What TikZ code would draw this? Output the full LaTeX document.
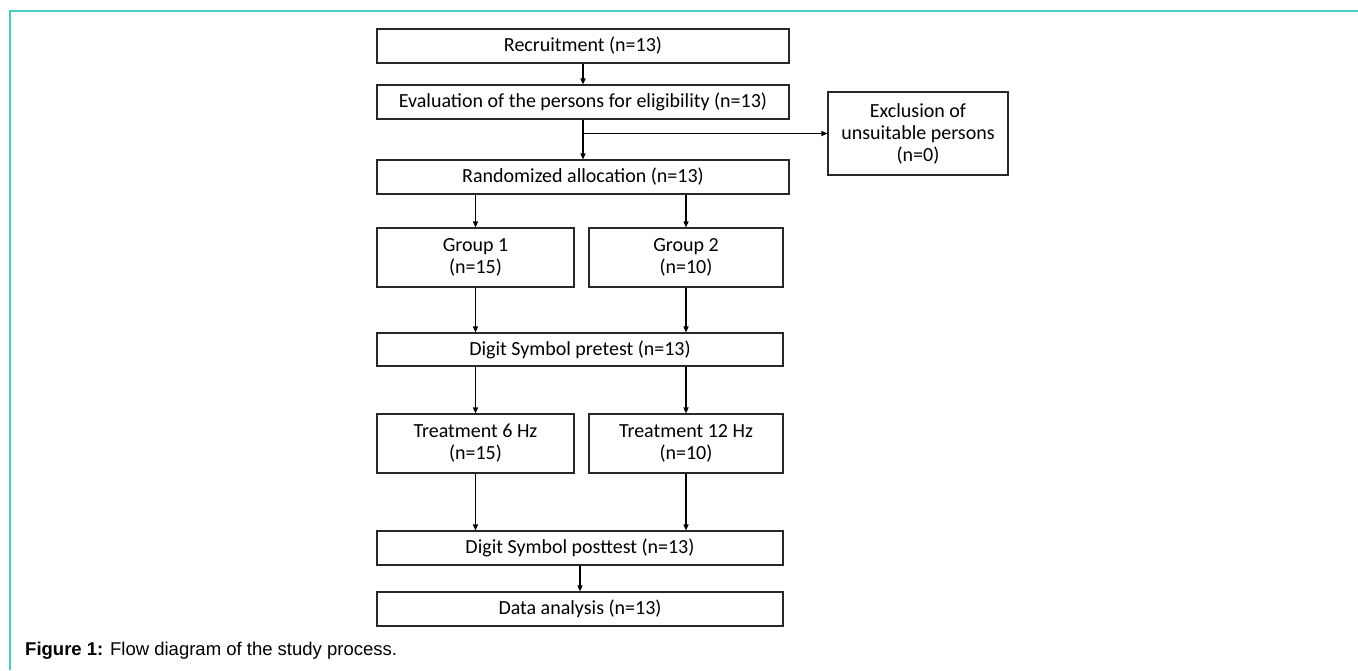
\documentclass[tikz,border=0pt]{standalone}
\usepackage{fontspec}
\setmainfont{Carlito}
\newfontfamily\capfont{Liberation Sans}
\usetikzlibrary{arrows.meta}
\definecolor{frameteal}{RGB}{70,205,190}
\definecolor{boxline}{RGB}{40,40,40}
\begin{document}
\begin{tikzpicture}[x=1pt,y=-1pt,
  box/.style={draw=boxline,line width=1.1pt,inner sep=0pt,align=center,
    font=\fontsize{20}{22}\selectfont},
  arr/.style={-{Triangle[length=6pt,width=5pt]},line width=1.3pt,black}]
\useasboundingbox (0,0) rectangle (1358,670);
\draw[frameteal,line width=2pt] (1358,10.5) -- (9.5,10.5) -- (9.5,670);
% boxes
\node[box,minimum width=412pt,minimum height=34pt] (rec) at (583,46) {Recruitment (n=13)};
\node[box,minimum width=412pt,minimum height=34pt] (eval) at (583,102) {Evaluation of the persons for eligibility (n=13)};
\node[box,minimum width=180pt,minimum height=83pt] (excl) at (918,133.5) {Exclusion of\\unsuitable persons\\(n=0)};
\node[box,minimum width=412pt,minimum height=34pt] (rand) at (583,177) {Randomized allocation (n=13)};
\node[box,minimum width=197pt,minimum height=59pt] (g1) at (475.5,257.5) {Group 1\\(n=15)};
\node[box,minimum width=194pt,minimum height=59pt] (g2) at (686,257.5) {Group 2\\(n=10)};
\node[box,minimum width=406pt,minimum height=33pt] (pre) at (580,349.5) {Digit Symbol pretest (n=13)};
\node[box,minimum width=197pt,minimum height=59pt] (t1) at (475.5,443.5) {Treatment 6 Hz\\(n=15)};
\node[box,minimum width=194pt,minimum height=59pt] (t2) at (686,443.5) {Treatment 12 Hz\\(n=10)};
\node[box,minimum width=406pt,minimum height=34pt] (post) at (580,548) {Digit Symbol posttest (n=13)};
\node[box,minimum width=406pt,minimum height=34pt] (data) at (580,609) {Data analysis (n=13)};
% connectors
\draw[arr] (rec.south) -- (eval.north);
\draw[arr] (eval.south) -- (rand.north);
\coordinate (split) at (eval.south |- excl.west);
\draw[arr] (split) -- (excl.west);
\draw[arr] (g1.north |- rand.south) -- (g1.north);
\draw[arr] (g2.north |- rand.south) -- (g2.north);
\draw[arr] (g1.south) -- (g1.south |- pre.north);
\draw[arr] (g2.south) -- (g2.south |- pre.north);
\draw[arr] (t1.north |- pre.south) -- (t1.north);
\draw[arr] (t2.north |- pre.south) -- (t2.north);
\draw[arr] (t1.south) -- (t1.south |- post.north);
\draw[arr] (t2.south) -- (t2.south |- post.north);
\draw[arr] (post.south) -- (data.north);
\node[anchor=base west,inner sep=0pt,font=\capfont\fontsize{18.5}{21}\selectfont] (cap) at (25,655)
  {\textbf{Figure 1:} Flow diagram of the study process.};
\end{tikzpicture}
\end{document}
